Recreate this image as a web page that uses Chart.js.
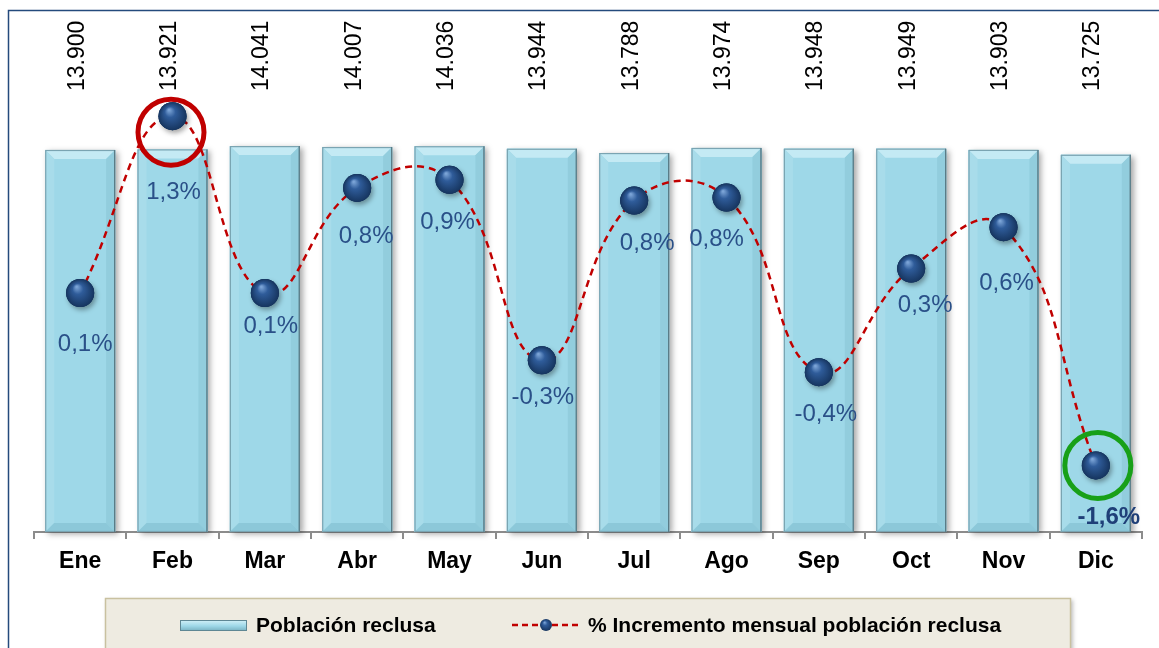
<!DOCTYPE html>
<html>
<head>
<meta charset="utf-8">
<script src="https://cdn.jsdelivr.net/npm/chart.js@4.4.1/dist/chart.umd.min.js"></script>
<style>
  html, body { margin: 0; padding: 0; background: #fff; }
  #wrap { width: 1159px; height: 648px; position: relative; }
</style>
</head>
<body>
<div id="wrap"><canvas id="poblacionChart"></canvas></div>
<script>
// Meses
const months = ['Ene', 'Feb', 'Mar', 'Abr', 'May', 'Jun', 'Jul', 'Ago', 'Sep', 'Oct', 'Nov', 'Dic'];

// Población reclusa (barras)
const poblacion = [13900, 13921, 14041, 14007, 14036, 13944, 13788, 13974, 13948, 13949, 13903, 13725];
const poblacionLabels = ['13.900', '13.921', '14.041', '14.007', '14.036', '13.944', '13.788', '13.974', '13.948', '13.949', '13.903', '13.725'];

// % incremento mensual (linea) - posiciones
const incremento = [0.155, 1.35, 0.155, 0.865, 0.92, -0.30, 0.78, 0.80, -0.38, 0.32, 0.60, -1.01];
const incrementoLabels = ['0,1%', '1,3%', '0,1%', '0,8%', '0,9%', '-0,3%', '0,8%', '0,8%', '-0,4%', '0,3%', '0,6%', '-1,6%'];

// label nudges (px) for the % labels, relative to each point
const pctNudge = [[5, 51], [1, 76], [6, 33], [9, 48], [-2, 43], [1, 37], [13, 43], [-10, 42], [7, 42], [14, 37], [3, 56], [13, 52]];

const FONT = '"Liberation Sans", Arial, sans-serif';
const barFace = '#9ed8e8';

let sphere = (ctx, x, y, r) => {
    let g = ctx.createRadialGradient(x - r * 0.25, y - r * 0.45, r * 0.05, x, y, r);
    g.addColorStop(0, '#7aa3d6');
    g.addColorStop(0.35, '#2f5c9a');
    g.addColorStop(1, '#16355f');
    ctx.beginPath();
    ctx.arc(x, y, r, 0, Math.PI * 2);
    ctx.fillStyle = g;
    ctx.fill();
};

const decor = {
    id: 'decor',
    beforeDraw(chart) {
        const ctx = chart.ctx;
        ctx.save();
        ctx.strokeStyle = '#244a7c';
        ctx.lineWidth = 1.5;
        ctx.beginPath();
        ctx.moveTo(8.5, 648);
        ctx.lineTo(8.5, 10.5);
        ctx.lineTo(1159, 10.5);
        ctx.stroke();
        ctx.restore();
    },
    beforeDatasetDraw(chart, args) {
        if (args.index !== 0) return;
        const ctx = chart.ctx;
        ctx.save();
        ctx.shadowColor = 'rgba(0,0,0,0.35)';
        ctx.shadowBlur = 6;
        ctx.shadowOffsetX = 3;
        ctx.shadowOffsetY = 2;
        ctx.fillStyle = barFace;
        args.meta.data.forEach((bar) => {
            ctx.fillRect(bar.x - bar.width / 2, bar.y, bar.width, bar.base - bar.y);
        });
        ctx.restore();
    },
    afterDatasetDraw(chart, args) {
        const ctx = chart.ctx;
        if (args.index === 0) {
            // bevel on each bar
            ctx.save();
            args.meta.data.forEach((bar) => {
                let l = bar.x - bar.width / 2, r = bar.x + bar.width / 2, t = bar.y, b = bar.base, e = 9;
                ctx.fillStyle = '#c4eaf4';
                ctx.beginPath();
                ctx.moveTo(l, t); ctx.lineTo(r, t); ctx.lineTo(r - e, t + e); ctx.lineTo(l + e, t + e); ctx.closePath();
                ctx.fill();
                ctx.fillStyle = '#a8dcea';
                ctx.beginPath();
                ctx.moveTo(l, t); ctx.lineTo(l + e, t + e); ctx.lineTo(l + e, b - e); ctx.lineTo(l, b); ctx.closePath();
                ctx.fill();
                ctx.fillStyle = '#92cddd';
                ctx.beginPath();
                ctx.moveTo(r, t); ctx.lineTo(r - e, t + e); ctx.lineTo(r - e, b - e); ctx.lineTo(r, b); ctx.closePath();
                ctx.fill();
                ctx.fillStyle = '#8cc8d9';
                ctx.beginPath();
                ctx.moveTo(l, b); ctx.lineTo(l + e, b - e); ctx.lineTo(r - e, b - e); ctx.lineTo(r, b); ctx.closePath();
                ctx.fill();
                ctx.strokeStyle = '#7aa4b2';
                ctx.lineWidth = 1.2;
                ctx.strokeRect(l + 0.5, t + 0.5, r - l - 1, b - t - 1);
                ctx.strokeStyle = '#5a7c87';
                ctx.beginPath();
                ctx.moveTo(r - 0.5, t); ctx.lineTo(r - 0.5, b);
                ctx.stroke();
            });
            ctx.restore();
        }
        if (args.index === 1) {
            ctx.save();
            args.meta.data.forEach((pt) => {
                ctx.save();
                ctx.shadowColor = 'rgba(0,0,0,0.35)';
                ctx.shadowBlur = 5;
                ctx.shadowOffsetX = 2;
                ctx.shadowOffsetY = 3;
                sphere(ctx, pt.x, pt.y, 14);
                ctx.restore();
                sphere(ctx, pt.x, pt.y, 14);
            });
            ctx.restore();
        }
    },
    afterDatasetsDraw(chart) {
        const ctx = chart.ctx;
        const bars = chart.getDatasetMeta(0).data;
        const pts = chart.getDatasetMeta(1).data;
        ctx.save();
        // highlight circles
        ctx.lineWidth = 5;
        ctx.strokeStyle = '#c00000';
        ctx.beginPath();
        ctx.arc(pts[1].x - 1.5, pts[1].y + 16, 33, 0, Math.PI * 2);
        ctx.stroke();
        ctx.strokeStyle = '#18a018';
        ctx.beginPath();
        ctx.arc(pts[11].x + 2, pts[11].y, 33, 0, Math.PI * 2);
        ctx.stroke();

        // % labels
        ctx.textAlign = 'center';
        ctx.textBaseline = 'middle';
        pts.forEach((pt, i) => {
            let last = i === pts.length - 1;
            ctx.font = (last ? 'bold ' : '') + '24px ' + FONT;
            ctx.fillStyle = last ? '#1f3f78' : '#2a5088';
            ctx.fillText(incrementoLabels[i], pt.x + pctNudge[i][0], pt.y + pctNudge[i][1]);
        });

        // population labels, rotated at the top
        ctx.font = '23px ' + FONT;
        ctx.fillStyle = '#000';
        ctx.textAlign = 'left';
        bars.forEach((bar, i) => {
            ctx.save();
            ctx.translate(bar.x - 3, 91);
            ctx.rotate(-Math.PI / 2);
            ctx.fillText(poblacionLabels[i], 0, 0);
            ctx.restore();
        });
        ctx.restore();
    },
    afterDraw(chart) {
        const ctx = chart.ctx;
        ctx.save();
        // legend box
        ctx.shadowColor = 'rgba(0,0,0,0.25)';
        ctx.shadowBlur = 4;
        ctx.shadowOffsetX = 2;
        ctx.shadowOffsetY = 2;
        ctx.fillStyle = '#eeebe1';
        ctx.fillRect(105, 598, 966, 60);
        ctx.shadowColor = 'transparent';
        ctx.strokeStyle = '#c9c1a0';
        ctx.lineWidth = 1.5;
        ctx.strokeRect(105.5, 598.5, 965, 60);

        // bar swatch
        let g = ctx.createLinearGradient(0, 620, 0, 632);
        g.addColorStop(0, '#d3f1f8');
        g.addColorStop(0.5, '#9ed8e8');
        g.addColorStop(1, '#6fa8b8');
        ctx.fillStyle = g;
        ctx.fillRect(180, 620, 67, 11);
        ctx.strokeStyle = '#5e8794';
        ctx.lineWidth = 1;
        ctx.strokeRect(180.5, 620.5, 66, 10);

        ctx.font = 'bold 21px ' + FONT;
        ctx.fillStyle = '#000';
        ctx.textAlign = 'left';
        ctx.textBaseline = 'middle';
        ctx.fillText('Población reclusa', 256, 626);

        // line swatch
        ctx.strokeStyle = '#c00000';
        ctx.lineWidth = 2.5;
        ctx.setLineDash([6, 4]);
        ctx.beginPath();
        ctx.moveTo(512, 625);
        ctx.lineTo(580, 625);
        ctx.stroke();
        ctx.setLineDash([]);
        sphere(ctx, 546, 625, 6);

        ctx.fillStyle = '#000';
        ctx.fillText('% Incremento mensual población reclusa', 588, 626);
        ctx.restore();
    }
};

let myChart = new Chart(document.getElementById('poblacionChart').getContext('2d'), {
    type: 'bar',
    data: {
        labels: months,
        datasets: [{
            type: 'bar',
            label: 'Población reclusa',
            data: poblacion,
            backgroundColor: barFace,
            borderWidth: 0,
            barPercentage: 0.757,
            categoryPercentage: 1,
            yAxisID: 'y',
            order: 1,
        }, {
            type: 'line',
            label: '% Incremento mensual población reclusa',
            data: incremento,
            borderColor: '#c00000',
            borderWidth: 2.5,
            borderDash: [7, 5],
            tension: 0.45,
            fill: false,
            pointRadius: 14,
            pointBackgroundColor: '#1f4a7f',
            pointBorderWidth: 0,
            yAxisID: 'y1',
            order: 0,
        }]
    },
    options: {
        responsive: true,
        maintainAspectRatio: false,
        animation: false,
        events: [],
        layout: {
            padding: { left: 34, right: 17, top: 20, bottom: 0 }
        },
        plugins: {
            legend: { display: false },
            tooltip: { enabled: false },
        },
        scales: {
            x: {
                afterFit: (scale) => { scale.height = 116; },
                grid: {
                    drawOnChartArea: false,
                    drawTicks: true,
                    tickLength: 7,
                    color: '#8c8c8c',
                    lineWidth: 2,
                    offset: true,
                },
                border: { display: true, color: '#8c8c8c', width: 2 },
                ticks: {
                    color: '#000',
                    padding: 9,
                    font: { family: FONT, size: 23, weight: 'bold' },
                }
            },
            y: {
                display: false,
                min: 0,
                max: 18630,
            },
            y1: {
                display: false,
                min: -1.46,
                max: 2.0,
            }
        }
    },
    plugins: [decor]
});
</script>
</body>
</html>
